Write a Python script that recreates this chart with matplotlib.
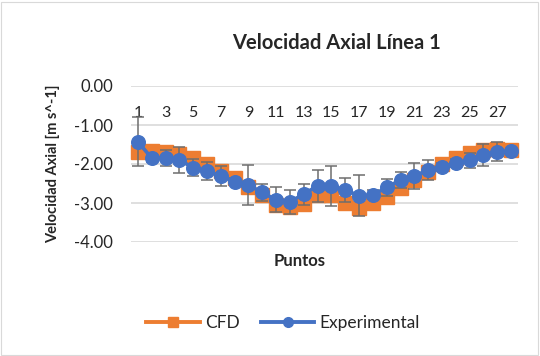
import matplotlib
matplotlib.use("Agg")
import matplotlib.pyplot as plt
from matplotlib.lines import Line2D
from matplotlib.patches import Rectangle

plt.rcParams['font.family'] = ['Lato', 'DejaVu Sans']

# Measurement points along line 1
puntos = list(range(1, 29))
tick_labels = [str(p) if p % 2 == 1 else "" for p in puntos]

# Axial velocity [m s^-1]
cfd = [-1.68, -1.66, -1.68, -1.74, -1.85, -2.00, -2.17, -2.37, -2.58, -2.79,
       -3.05, -3.11, -3.03, -2.79, -2.79, -2.99, -3.14, -3.01, -2.84, -2.62,
       -2.41, -2.20, -2.00, -1.85, -1.73, -1.64, -1.62, -1.64]
experimental = [-1.43, -1.85, -1.85, -1.90, -2.09, -2.18, -2.31, -2.45, -2.54, -2.73,
                -2.92, -2.97, -2.77, -2.56, -2.56, -2.67, -2.81, -2.79, -2.60, -2.41,
                -2.31, -2.15, -2.07, -1.97, -1.90, -1.77, -1.68, -1.67]
exp_error = [0.63, 0.10, 0.20, 0.34, 0.23, 0.23, 0.25, 0.10, 0.51, 0.22,
             0.32, 0.30, 0.27, 0.41, 0.52, 0.30, 0.52, 0.12, 0.21, 0.21,
             0.34, 0.25, 0.10, 0.10, 0.19, 0.29, 0.24, 0.06]

ORANGE = "#ED7D31"
BLUE = "#4472C4"
GRID = "#D9D9D9"
ERR = "#6E6E6E"
TXT = "#262626"

W, H = 540, 356
fig = plt.figure(figsize=(W / 100, H / 100), dpi=100)

# chart area frame
fig.add_artist(Rectangle((1 / W, 1 / H), (W - 3) / W, (H - 3) / H,
                         transform=fig.transFigure, fill=False,
                         edgecolor=GRID, linewidth=0.8))

ax_l, ax_r, ax_t, ax_b = 131, 518, 86, 242
ax = fig.add_axes([ax_l / W, 1 - ax_b / H, (ax_r - ax_l) / W, (ax_b - ax_t) / H])

ax.set_xlim(0.5, 28.5)
ax.set_ylim(-4, 0)
ax.set_yticks([0, -1, -2, -3, -4])
ax.set_yticklabels([f"{v:.2f}" for v in [0, -1, -2, -3, -4]])
ax.yaxis.grid(True, color=GRID, linewidth=1.2)
ax.set_axisbelow(True)
for s in ax.spines.values():
    s.set_visible(False)
ax.tick_params(axis='y', length=0, pad=13, labelsize=12, labelcolor=TXT)
ax.set_xticks([])

ax.plot(puntos, cfd, color=ORANGE, linewidth=2.6, marker='s', markersize=10,
        markerfacecolor=ORANGE, markeredgecolor=ORANGE, clip_on=False, zorder=3)
ax.errorbar(puntos, experimental, yerr=exp_error, fmt='none', ecolor=ERR,
            elinewidth=1.1, capsize=4, capthick=1.1, zorder=4, clip_on=False)
ax.plot(puntos, experimental, color=BLUE, linewidth=2.6, marker='o', markersize=9.8,
        markerfacecolor=BLUE, markeredgecolor=BLUE, clip_on=False, zorder=5)

# category labels sit just under the zero line
for p, lab in zip(puntos, tick_labels):
    if lab:
        ax.text(p, -0.68, lab, ha='center', va='center', fontsize=11.5, color=TXT)

fig.text(336 / W, 1 - 43 / H, "Velocidad Axial Línea 1", ha='center', va='center',
         fontsize=14.5, fontweight='bold', color=TXT)
fig.text(300 / W, 1 - 261 / H, "Puntos", ha='center', va='center',
         fontsize=12, fontweight='bold', color=TXT)
fig.text(53 / W, 1 - 164 / H, "Velocidad Axial [m s^-1]", ha='center', va='center',
         rotation=90, fontsize=10.5, fontweight='bold', color=TXT)

handles = [
    Line2D([], [], color=ORANGE, linewidth=2.8, marker='s', markersize=7,
           markerfacecolor=ORANGE, markeredgecolor=ORANGE),
    Line2D([], [], color=BLUE, linewidth=2.8, marker='o', markersize=7,
           markerfacecolor=BLUE, markeredgecolor=BLUE),
]
fig.legend(handles, ["CFD", "Experimental"], loc='center',
           bbox_to_anchor=(283 / W, 1 - 323 / H), ncol=2, frameon=False,
           fontsize=12.5, handlelength=3.1, handletextpad=0.3, columnspacing=1.2,
           labelcolor=TXT)

fig.savefig("out.png", dpi=100)
